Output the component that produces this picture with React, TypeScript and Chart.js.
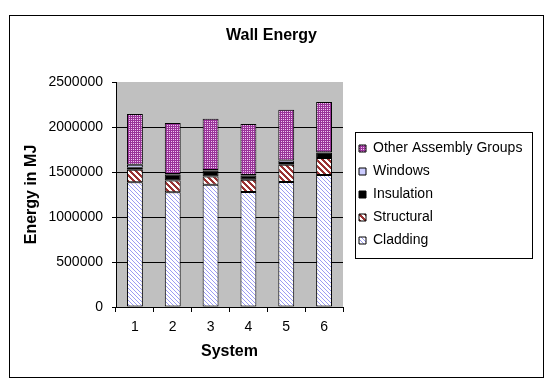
import React, { useEffect, useRef } from 'react';
import { Chart, registerables } from 'chart.js';

Chart.register(...registerables);

const categories = ['1', '2', '3', '4', '5', '6'];
const seriesNames = ['Cladding', 'Structural', 'Insulation', 'Windows', 'Other Assembly Groups'];
const cladding = [1385000, 1275000, 1358000, 1278000, 1389000, 1467000];
const structural = [141000, 130000, 93000, 136000, 192000, 189000];
const insulation = [22000, 67000, 67000, 48000, 20000, 58000];
const windows = [33000, 5000, 5000, 5000, 28000, 6000];
const other = [563000, 567000, 569000, 566000, 563000, 558000];
const yTicks = [0, 500000, 1000000, 1500000, 2000000, 2500000];

const FONT = "'Liberation Sans', Arial, Helvetica, sans-serif";

function makePattern(size: number, paint: (x: number, y: number) => string): CanvasPattern | string {
  const c = document.createElement('canvas');
  c.width = size;
  c.height = size;
  const g = c.getContext('2d');
  if (!g) return '#ccc';
  for (let y = 0; y < size; y++) {
    for (let x = 0; x < size; x++) {
      g.fillStyle = paint(x, y);
      g.fillRect(x, y, 1, 1);
    }
  }
  const p = g.createPattern(c, 'repeat');
  return p || '#ccc';
}

const framePlugin = {
  id: 'frame',
  afterLayout(chart: any) {
    const lg = chart.legend;
    if (lg) {
      lg.left += 7;
      lg.right += 7;
    }
  },
  beforeDraw(chart: any) {
    const { ctx, chartArea: a } = chart;
    ctx.save();
    ctx.fillStyle = '#ffffff';
    ctx.fillRect(0, 0, chart.width, chart.height);
    ctx.strokeStyle = '#000';
    ctx.lineWidth = 1;
    ctx.strokeRect(9.5, 15.5, 534, 362);
    ctx.fillStyle = '#c0c0c0';
    ctx.fillRect(a.left, a.top, a.right - a.left, a.bottom - a.top);
    ctx.restore();
  },
  afterDraw(chart: any) {
    const lg = chart.legend;
    if (!lg || !lg.legendHitBoxes || !lg.legendHitBoxes.length) return;
    const hb = lg.legendHitBoxes;
    let right = 0;
    let bottom = 0;
    let top = Infinity;
    let left = Infinity;
    hb.forEach((h: any) => {
      right = Math.max(right, h.left + h.width);
      bottom = Math.max(bottom, h.top + h.height);
      top = Math.min(top, h.top);
      left = Math.min(left, h.left);
    });
    const { ctx } = chart;
    ctx.save();
    ctx.strokeStyle = '#000';
    ctx.lineWidth = 1;
    const x0 = Math.round(left - 4) + 0.5;
    const y0 = Math.round(top - 10) + 0.5;
    const x1 = Math.round(right + 10) + 0.5;
    const y1 = Math.round(bottom + 10) + 0.5;
    ctx.strokeRect(x0, y0, x1 - x0, y1 - y0);
    ctx.restore();
  },
};

export default function App() {
  const ref = useRef<HTMLCanvasElement | null>(null);

  useEffect(() => {
    const canvas = ref.current;
    if (!canvas) return;

    const claddingFill = makePattern(4, (x, y) => ((x - y + 8) % 4 === 0 ? '#9c9cf2' : '#ffffff'));
    const structuralFill = makePattern(6, (x, y) => ((x - y + 12) % 6 < 3 ? '#993333' : '#ffffff'));
    const insulationFill = '#000000';
    const windowsFill = '#ccccff';
    const otherFill = makePattern(2, (x, y) => (x === 1 && y === 1 ? '#f0c8f0' : '#993399'));

    const fills = [claddingFill, structuralFill, insulationFill, windowsFill, otherFill];
    const values = [cladding, structural, insulation, windows, other];

    const tickFont = { family: FONT, size: 14 };
    const boldFont = { family: FONT, size: 16, weight: 'bold' as const };

    const chart = new Chart(canvas, {
      type: 'bar',
      data: {
        labels: categories,
        datasets: seriesNames.map((name, i) => ({
          label: name,
          data: values[i],
          backgroundColor: fills[i] as any,
          borderColor: '#000000',
          borderWidth: 1,
          borderSkipped: false,
          barPercentage: 0.42,
          categoryPercentage: 1,
        })),
      },
      options: {
        responsive: false,
        animation: false,
        devicePixelRatio: 1,
        layout: { padding: { left: 20, right: 27, top: 0, bottom: 0 } },
        plugins: {
          title: {
            display: true,
            text: 'Wall Energy',
            color: '#000',
            font: boldFont,
            padding: { top: 26, bottom: 36.8 },
          },
          legend: {
            display: true,
            position: 'right',
            fullSize: false,
            reverse: true,
            maxWidth: 180,
            labels: {
              color: '#000',
              font: tickFont,
              boxWidth: 7,
              boxHeight: 7,
              padding: 9,
            },
          },
          tooltip: { enabled: false },
        },
        scales: {
          x: {
            stacked: true,
            grid: {
              display: true,
              drawOnChartArea: false,
              drawTicks: true,
              tickLength: 5,
              color: '#000',
              offset: true,
            },
            border: { color: '#000', width: 1 },
            ticks: { color: '#000', font: tickFont, padding: 7 },
            title: {
              display: true,
              text: 'System',
              color: '#000',
              font: boldFont,
              padding: { top: 0, bottom: 25 },
            },
            afterFit(scale: any) {
              scale.height = 79;
            },
          },
          y: {
            stacked: true,
            min: yTicks[0],
            max: yTicks[yTicks.length - 1],
            afterBuildTicks(scale: any) {
              scale.ticks = yTicks.map((v) => ({ value: v }));
            },
            ticks: {
              color: '#000',
              font: tickFont,
              padding: 9,
              callback: (v: any) => String(v),
            },
            grid: {
              color: (c: any) =>
                c.tick && c.tick.value === yTicks[yTicks.length - 1] ? 'rgba(0,0,0,0)' : '#000',
              tickColor: '#000',
              tickLength: 4,
            },
            border: { color: '#000', width: 1 },
            title: {
              display: true,
              text: 'Energy in MJ',
              color: '#000',
              font: boldFont,
              padding: { top: 1.5, bottom: 0 },
            },
            afterFit(scale: any) {
              scale.width = 96;
            },
          },
        },
      },
      plugins: [framePlugin],
    });

    return () => {
      chart.destroy();
    };
  }, []);

  return (
    <canvas
      ref={ref}
      width={550}
      height={386}
      style={{ position: 'absolute', left: 0, top: 0, width: 550, height: 386 }}
    />
  );
}
